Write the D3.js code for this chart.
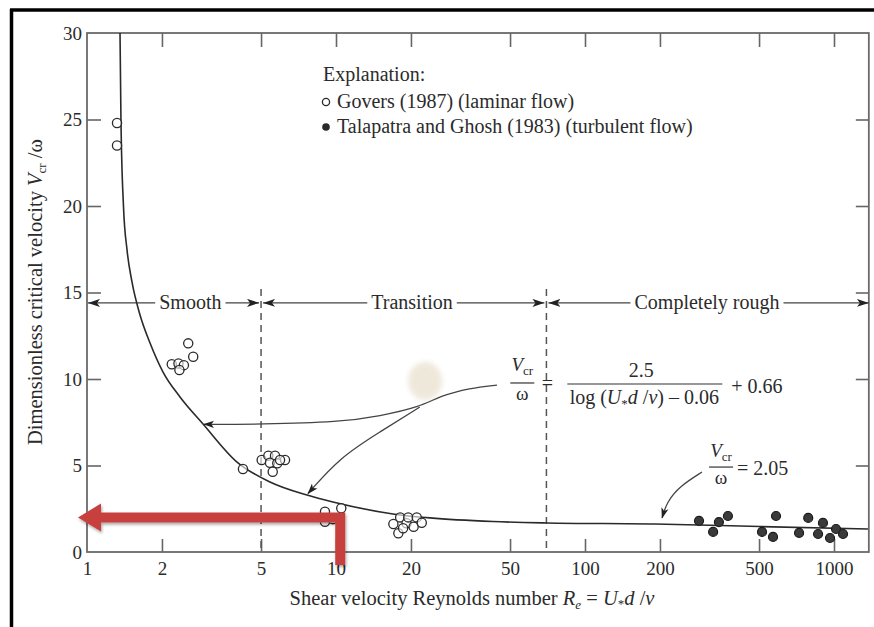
<!DOCTYPE html>
<html><head><meta charset="utf-8">
<script src="https://cdn.jsdelivr.net/npm/d3@7"></script>
<style>
body{margin:0;background:#fff}
svg{display:block}
text{font-family:"Liberation Serif","Times New Roman",serif;fill:#2b2b2b}
</style>
</head><body>
<svg id="c" width="874" height="627"></svg>
<script>
// ---------- data ----------
const reTicks = [1, 2, 5, 10, 20, 50, 100, 200, 500, 1000];
const vTicks = [0, 5, 10, 15, 20, 25, 30];

const curveRe = [1.357,1.369,1.401,1.448,1.516,1.633,1.791,2.02,2.363,2.924,4.004,5.43,7.65,9.72,16.94,23.85,42.7,70.4,191,504,1369];
const curveV  = [30,24.97,20.0,17.46,15.61,13.7,12.08,10.4,8.96,7.40,5.20,4.05,3.29,2.89,2.20,1.97,1.76,1.68,1.62,1.47,1.33];

const goversRe = [1.32,1.32, 2.55,2.67,2.19,2.33,2.45,2.35, 4.23, 5.03,5.35,5.69,5.43,5.81,5.57,6.24,5.96, 9.03,9.03,10.5,9.72, 17.0,17.8,18.1,19.2,19.5,20.5,21.1,22.1,18.6];
const goversV  = [24.8,23.5, 12.06,11.29,10.85,10.9,10.8,10.52, 4.8, 5.32,5.57,5.57,5.16,5.13,4.64,5.32,5.32, 2.33,1.75,2.53,1.9, 1.62,1.08,2.0,1.66,2.0,1.46,2.0,1.69,1.37];

const talaRe = [287,327,345,375,514,569,585,724,788,863,903,964,1019,1087];
const talaV  = [1.8,1.16,1.73,2.08,1.16,0.87,2.08,1.1,1.97,1.04,1.68,0.81,1.33,1.04];

const regimeNames = ["Smooth", "Transition", "Completely rough"];
const regimeCenters = [2.6, 20.2, 309];
const regimeBounds = [1, 5, 70, 1380];
const regimeV = 14.4;
const dashedRe = [5, 70];
const dashedTopV = 15.2;

// annotation leader paths in data coordinates (Re, V)
const leaderA_Re = [44.3,34.5,26.2,21.7,15.0,10.4,4.95,2.95];
const leaderA_V  = [9.65,9.48,9.02,8.38,7.86,7.51,7.38,7.38];
const leaderB_Re = [21.7,15.0,10.4,7.72];
const leaderB_V  = [8.38,6.94,5.49,3.38];
const leaderC_Re = [295,241,213,204];
const leaderC_V  = [4.62,3.82,2.89,1.97];

const eq1Anchor = [56, 9.77];
const eq2Anchor = [352, 4.91];
const stainAt = [22.8, 9.88];
const redArrow = {re: 10.4, v: 2.0, vBottom: -0.75};

// ---------- layout ----------
const svg = d3.select("#c");
const x = d3.scaleLog().domain([1, 1000]).range([87, 834]);
const y = d3.scaleLinear().domain([0, 30]).range([552, 33]);
const xL = x(1), xR = x(1380), yB = y(0), yT = y(30);

// outer black frame (top + left)
svg.append("line").attr("x1",10).attr("x2",874).attr("y1",10).attr("y2",10).attr("stroke","#000").attr("stroke-width",3.5);
svg.append("line").attr("x1",11.5).attr("x2",11.5).attr("y1",9).attr("y2",627).attr("stroke","#000").attr("stroke-width",3.5);

// defs
const defs = svg.append("defs");
defs.append("marker").attr("id","ah").attr("viewBox","0 0 12 8").attr("refX",12).attr("refY",4)
  .attr("markerWidth",12).attr("markerHeight",8).attr("markerUnits","userSpaceOnUse").attr("orient","auto")
  .append("path").attr("d","M0,0 L12,4 L0,8 L3,4 z").attr("fill","#222");
defs.append("marker").attr("id","ah2").attr("viewBox","0 0 12 8").attr("refX",11).attr("refY",4)
  .attr("markerWidth",11).attr("markerHeight",8).attr("markerUnits","userSpaceOnUse").attr("orient","auto")
  .append("path").attr("d","M0,0 L12,4 L0,8 L3,4 z").attr("fill","#222");
const flt = defs.append("filter").attr("id","sh").attr("x","-20%").attr("y","-20%").attr("width","140%").attr("height","160%");
flt.append("feDropShadow").attr("dx",1).attr("dy",2).attr("stdDeviation",1.5).attr("flood-color","#000").attr("flood-opacity",0.35);
const bl = defs.append("filter").attr("id","bl");
bl.append("feGaussianBlur").attr("stdDeviation",2.5);

// stain
svg.append("ellipse").attr("cx",x(stainAt[0])).attr("cy",y(stainAt[1])).attr("rx",17).attr("ry",19)
  .attr("fill","#ece4d5").attr("opacity",0.85).attr("filter","url(#bl)");

// axes
const gx = svg.append("g").attr("transform",`translate(0,${yB})`)
  .call(d3.axisBottom(x).tickValues(reTicks).tickSize(-13).tickPadding(10).tickFormat(d3.format("d")));
const gxt = svg.append("g").attr("transform",`translate(0,${yT})`)
  .call(d3.axisTop(x).tickValues(reTicks.slice(1)).tickSize(-14).tickFormat(""));
const gy = svg.append("g").attr("transform",`translate(${xL},0)`)
  .call(d3.axisLeft(y).tickValues(vTicks).tickSize(-14).tickPadding(5));
const gyr = svg.append("g").attr("transform",`translate(${xR},0)`)
  .call(d3.axisRight(y).tickValues(vTicks.slice(1,-1)).tickSize(-13).tickFormat(""));
[gx,gxt,gy,gyr].forEach(g=>{
  g.select(".domain").remove();
  g.selectAll(".tick line").attr("stroke","#666").attr("stroke-width",1.6);
  g.selectAll("text").attr("font-size",19).attr("fill","#2b2b2b").attr("font-family","Liberation Serif, serif");
});
gx.selectAll(".tick").filter(d=>d===1).select("line").remove();
gy.selectAll(".tick").filter(d=>d===0||d===30).select("line").remove();

// frame
svg.append("rect").attr("x",xL).attr("y",yT).attr("width",xR-xL).attr("height",yB-yT)
  .attr("fill","none").attr("stroke","#6a6a6a").attr("stroke-width",1.8);

// dashed boundaries
svg.selectAll(".dash").data(dashedRe).join("line")
  .attr("x1",d=>x(d)).attr("x2",d=>x(d)).attr("y1",y(dashedTopV)).attr("y2",yB)
  .attr("stroke","#555").attr("stroke-width",1.5).attr("stroke-dasharray","7,5");

// regime arrows
regimeNames.forEach((name,i)=>{
  const cx = x(regimeCenters[i]), yy = y(regimeV);
  const t = svg.append("text").attr("x",cx).attr("y",yy+6).attr("text-anchor","middle").attr("font-size",20).text(name);
  const w = t.node().getComputedTextLength();
  const l0 = x(regimeBounds[i]) + (i===0?1:2), r0 = (i===2? xR : x(regimeBounds[i+1]) - 2);
  svg.append("line").attr("x1",cx-w/2-4).attr("x2",l0).attr("y1",yy).attr("y2",yy)
    .attr("stroke","#444").attr("stroke-width",1.3).attr("marker-end","url(#ah)");
  svg.append("line").attr("x1",cx+w/2+4).attr("x2",r0).attr("y1",yy).attr("y2",yy)
    .attr("stroke","#444").attr("stroke-width",1.3).attr("marker-end","url(#ah)");
});

// curve
const line = d3.line().x(d=>x(d[0])).y(d=>y(d[1])).curve(d3.curveMonotoneX);
svg.append("path").datum(curveRe.map((r,i)=>[r,curveV[i]]))
  .attr("d",line).attr("fill","none").attr("stroke","#2a2a2a").attr("stroke-width",1.6);

// leaders
const lline = d3.line().x(d=>x(d[0])).y(d=>y(d[1])).curve(d3.curveBasis);
[[leaderA_Re,leaderA_V],[leaderB_Re,leaderB_V],[leaderC_Re,leaderC_V]].forEach(([rs,vs])=>{
  svg.append("path").datum(rs.map((r,i)=>[r,vs[i]])).attr("d",lline)
    .attr("fill","none").attr("stroke","#444").attr("stroke-width",1.3).attr("marker-end","url(#ah2)");
});

// data points
svg.selectAll(".gov").data(goversRe.map((r,i)=>[r,goversV[i]])).join("circle")
  .attr("cx",d=>x(d[0])).attr("cy",d=>y(d[1])).attr("r",4.6)
  .attr("fill","#fff").attr("fill-opacity",0.6).attr("stroke","#2a2a2a").attr("stroke-width",1.3);
svg.selectAll(".tal").data(talaRe.map((r,i)=>[r,talaV[i]])).join("circle")
  .attr("cx",d=>x(d[0])).attr("cy",d=>y(d[1])).attr("r",4.5)
  .attr("fill","#3a3a3a").attr("stroke","#1a1a1a").attr("stroke-width",1.2);

// legend
svg.append("text").attr("x",323).attr("y",81).attr("font-size",20).text("Explanation:");
svg.append("circle").attr("cx",326).attr("cy",102).attr("r",3.6).attr("fill","#fff").attr("stroke","#2a2a2a").attr("stroke-width",1.3);
svg.append("text").attr("x",337).attr("y",108).attr("font-size",20).text("Govers (1987) (laminar flow)");
svg.append("circle").attr("cx",326).attr("cy",127).attr("r",3.8).attr("fill","#2a2a2a");
svg.append("text").attr("x",337).attr("y",133).attr("font-size",20).text("Talapatra and Ghosh (1983) (turbulent flow)");

// equation 1
{
  const g = svg.append("g").attr("transform",`translate(${x(eq1Anchor[0])},${y(eq1Anchor[1])})`);
  const n = g.append("text").attr("x",0).attr("y",-12).attr("text-anchor","middle").attr("font-size",19);
  n.append("tspan").attr("font-style","italic").text("V");
  n.append("tspan").attr("font-size",13).attr("dy",4).text("cr");
  g.append("line").attr("x1",-12).attr("x2",12).attr("y1",0).attr("y2",0).attr("stroke","#333").attr("stroke-width",1.2);
  g.append("text").attr("x",0).attr("y",17).attr("text-anchor","middle").attr("font-size",19).text("ω");
  g.append("text").attr("x",25).attr("y",7).attr("text-anchor","middle").attr("font-size",20).text("=");
  g.append("text").attr("x",119).attr("y",-6).attr("text-anchor","middle").attr("font-size",20).text("2.5");
  g.append("line").attr("x1",45).attr("x2",200).attr("y1",1).attr("y2",1).attr("stroke","#333").attr("stroke-width",1.2);
  const d = g.append("text").attr("x",122).attr("y",21).attr("text-anchor","middle").attr("font-size",20);
  d.append("tspan").text("log (");
  d.append("tspan").attr("font-style","italic").text("U");
  d.append("tspan").attr("font-size",13).attr("dy",4).text("*");
  d.append("tspan").attr("font-style","italic").attr("dy",-4).text("d");
  d.append("tspan").text(" /");
  d.append("tspan").attr("font-style","italic").text("ν");
  d.append("tspan").text(") – 0.06");
  g.append("text").attr("x",209).attr("y",10).attr("font-size",20).text("+ 0.66");
}
// equation 2
{
  const g = svg.append("g").attr("transform",`translate(${x(eq2Anchor[0])},${y(eq2Anchor[1])})`);
  const n = g.append("text").attr("x",0).attr("y",-10).attr("text-anchor","middle").attr("font-size",19);
  n.append("tspan").attr("font-style","italic").text("V");
  n.append("tspan").attr("font-size",13).attr("dy",4).text("cr");
  g.append("line").attr("x1",-12).attr("x2",12).attr("y1",0).attr("y2",0).attr("stroke","#333").attr("stroke-width",1.2);
  g.append("text").attr("x",0).attr("y",17).attr("text-anchor","middle").attr("font-size",19).text("ω");
  g.append("text").attr("x",16).attr("y",8).attr("font-size",20).text("= 2.05");
}

// axis titles
{
  const t = svg.append("text").attr("transform","translate(42,292) rotate(-90)").attr("text-anchor","middle").attr("font-size",20.5);
  t.append("tspan").text("Dimensionless critical velocity ");
  t.append("tspan").attr("font-style","italic").text("V");
  t.append("tspan").attr("font-size",13).attr("dy",4).text("cr");
  t.append("tspan").attr("dy",-4).text(" /ω");
  const b = svg.append("text").attr("x",472).attr("y",605).attr("text-anchor","middle").attr("font-size",20.5);
  b.append("tspan").text("Shear velocity Reynolds number ");
  b.append("tspan").attr("font-style","italic").text("R");
  b.append("tspan").attr("font-size",13).attr("dy",4).attr("font-style","italic").text("e");
  b.append("tspan").attr("dy",-4).text(" = ");
  b.append("tspan").attr("font-style","italic").text("U");
  b.append("tspan").attr("font-size",13).attr("dy",3).text("*");
  b.append("tspan").attr("font-style","italic").attr("dy",-3).text("d");
  b.append("tspan").text(" /");
  b.append("tspan").attr("font-style","italic").text("ν");
}

// red highlight arrow
{
  const rx = x(redArrow.re), ry = y(redArrow.v), rb = y(redArrow.vBottom);
  const tip = xL - 9;
  const g = svg.append("g").attr("filter","url(#sh)");
  g.append("path").attr("d",`M${rx},${rb} L${rx},${ry} L${tip+22},${ry}`)
    .attr("fill","none").attr("stroke","#c8403d").attr("stroke-width",10).attr("stroke-linejoin","miter");
  g.append("path").attr("d",`M${tip},${ry} L${tip+23},${ry-14} L${tip+23},${ry+14} Z`).attr("fill","#c8403d");
}
</script>
</body></html>
